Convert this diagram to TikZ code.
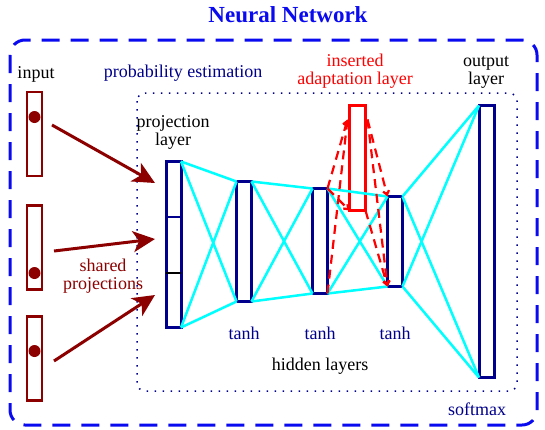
\documentclass[tikz,border=0pt]{standalone}
\usepackage{fontspec}
\setmainfont{Liberation Serif}
\newfontfamily\tnr{Liberation Serif}
\usetikzlibrary{arrows.meta}
\definecolor{navyc}{RGB}{0,0,140}
\definecolor{titleblue}{RGB}{10,10,240}
\definecolor{dred}{RGB}{140,0,0}
\definecolor{cyanc}{RGB}{0,255,255}
\definecolor{redc}{RGB}{255,0,0}
\begin{document}
\begin{tikzpicture}[x=1pt,y=-1pt,
  layerbox/.style={draw=navyc,line width=3pt,fill=white,inner sep=0pt,outer sep=0pt,minimum width=15pt},
  inbox/.style={draw=dred,line width=2.5pt,inner sep=0pt,outer sep=0pt,minimum width=15pt,minimum height=84pt},
  adbox/.style={draw=redc,line width=2.5pt,inner sep=0pt,outer sep=0pt,minimum width=16pt,minimum height=105pt},
  indot/.style={circle,fill=dred,inner sep=0pt,minimum size=12pt},
  conn/.style={draw=cyanc,line width=2.5pt},
  bigarrow/.style={draw=dred,line width=3pt,-{Stealth[length=22pt,width=21pt,inset=6pt]}},
  adarrow/.style={draw=redc,line width=2.2pt,dash pattern=on 9pt off 6pt,-{Straight Barb[length=4pt,width=6pt]}},
  txt/.style={font=\tnr\fontsize{18}{18}\selectfont,inner sep=0pt,align=center,anchor=base},
]
\useasboundingbox (0,0) rectangle (545,429);
% frames
\draw[titleblue,line width=3pt,dash pattern=on 18pt off 11pt,rounded corners=15pt] (10,40) rectangle (537,425);
\draw[navyc,line width=1.5pt,dash pattern=on 1.5pt off 6.5pt,rounded corners=8pt] (137,93) rectangle (517,391);
% title and labels
\node[txt,font=\tnr\fontsize{23}{26}\selectfont\bfseries,text=titleblue] (title) at (288,22) {Neural Network};
\node[txt] (linput) at (36,78) {input};
\node[txt,text=navyc] (lprob) at (183,77) {probability estimation};
\node[txt,text=redc] (lins) at (355,84) {inserted\\adaptation layer};
\node[txt] (lout) at (486,84) {output\\layer};
\node[txt] (lproj) at (173,145) {projection\\layer};
\node[txt,text=dred] (lshared) at (103,289) {shared\\projections};
\node[txt,text=navyc] (t1) at (244,339) {tanh};
\node[txt,text=navyc] (t2) at (320,339) {tanh};
\node[txt,text=navyc] (t3) at (395,339) {tanh};
\node[txt] (lhid) at (320,370) {hidden layers};
\node[txt,text=navyc] (lsoft) at (477,415) {softmax};
% input boxes
\node[inbox] (in1) at (34.5,134) {};
\node[inbox] (in2) at (34.5,247.5) {};
\node[inbox] (in3) at (34.5,358.5) {};
\node[indot] (d1) at (34.5,117) {};
\node[indot] (d2) at (34.5,273) {};
\node[indot] (d3) at (34.5,351) {};
% layers
\node[layerbox,minimum height=166pt] (proj) at (173.5,244.5) {};
\node[layerbox,minimum height=120pt] (h1) at (244,241.5) {};
\node[layerbox,minimum height=105pt] (h2) at (320,241) {};
\node[layerbox,minimum height=90pt] (h3) at (395,241.5) {};
\node[layerbox,minimum height=272pt] (outl) at (486.5,241.5) {};
\node[adbox] (ad) at (357.5,158) {};
\draw[navyc,line width=2.5pt] (proj.west |- 0,217) -- (proj.east |- 0,217);
\draw[black,line width=2.5pt] (proj.west |- 0,273) -- (proj.east |- 0,273);
% arrows into projection layer
\coordinate (s1) at (52,125);
\coordinate (s2) at (54,251);
\coordinate (s3) at (54,361);
\coordinate (e1) at (155,183);
\coordinate (e2) at (155,239);
\coordinate (e3) at (155,295);
\draw[bigarrow] (s1) -- (e1);
\draw[bigarrow] (s2) -- (e2);
\draw[bigarrow] (s3) -- (e3);
% cyan connections
\foreach \a/\b in {proj/h1,h1/h2,h2/h3,h3/outl}{
  \draw[conn] (\a.north east) -- (\b.north west);
  \draw[conn] (\a.north east) -- (\b.south west);
  \draw[conn] (\a.south east) -- (\b.north west);
  \draw[conn] (\a.south east) -- (\b.south west);
}
% adaptation layer dashed connections
\coordinate (adtl) at ([xshift=-2pt,yshift=-14pt]ad.north west);
\coordinate (adtr) at ([xshift=2pt,yshift=-14pt]ad.north east);
\draw[adarrow] (h2.north east) -- (adtl);
\draw[adarrow] (h2.south east) -- (adtl);
\draw[adarrow] (h2.north east) -- (ad.south west);
\draw[adarrow] (adtr) -- (h3.north west);
\draw[adarrow] (adtr) -- (h3.south west);
\draw[adarrow] (ad.south east) -- (h3.south west);
\end{tikzpicture}
\end{document}
